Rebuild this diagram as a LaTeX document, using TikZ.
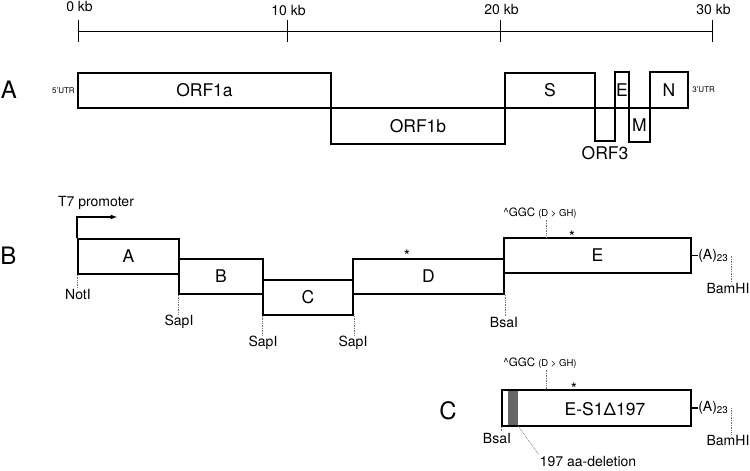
\documentclass[tikz,border=0pt]{standalone}
\usepackage{fontspec}
\setmainfont{TeX Gyre Heros}
\usepackage{tikz}
\usetikzlibrary{positioning}
\usetikzlibrary{arrows}
\newcommand{\boxfont}{\fontsize{17.5}{19}\selectfont}
\newcommand{\sitefont}{\fontsize{14}{16}\selectfont}
\newcommand{\panelfont}{\fontsize{24}{26}\selectfont}
\newcommand{\utrfont}{\fontsize{8}{9}\selectfont}
\newcommand{\ggcfont}{\fontsize{11.5}{13}\selectfont}
\newcommand{\ghfont}{\fontsize{9.5}{11}\selectfont}
\newcommand{\astfont}{\fontsize{16}{17}\selectfont}
\newcommand{\segment}[6]{ % Takes node name, left x, top y, right x, bottom y, label text as arguments
    \node [seg, minimum width={(#4-#2)*1pt}, minimum height={(#5-#3)*1pt}] (#1) at ({(#2+#4)/2}, {(#3+#5)/2}) {#6};
}

\begin{document}
\begin{tikzpicture}[x=1pt, y=-1pt,
    seg/.style={draw, line width=2.1pt, inner sep=0pt, font=\boxfont},
    site/.style={font=\sitefont, inner sep=1pt},
    utr/.style={font=\utrfont, inner sep=0pt},
    ggc/.style={font=\ggcfont, inner sep=1pt},
    astx/.style={font=\astfont, inner sep=0pt, anchor=base},
    cut/.style={densely dotted, line width=0.7pt, black!55},
    panel/.style={font=\panelfont, inner sep=0pt}]
                \useasboundingbox (0,0) rectangle (750,471);

                % Scale
                \foreach \k/\x/\ly in {0/78/7, 10/287/11, 20/500/10, 30/712/10} {
                    \coordinate (t\k) at (\x,31);
                    \draw[line width=1pt] (\x,20) -- (\x,42);
                    \node[site] (kb\k) at (\x+1.5,\ly) {\k\ kb};
                }
                \draw[line width=1pt] (t0) -- (t30);

                % A: genome
                \node[panel] (pa) at (9,90) {A};
                \segment{orf1a}{78}{73}{331}{108}{ORF1a}
                \segment{orf1b}{331}{108}{505}{144}{ORF1b}
                \segment{sbox}{505}{73}{595}{108}{S}
                \segment{orf3}{595}{108}{615}{141}{}
                \segment{ebox}{615}{72}{629}{108}{E}
                \segment{mbox}{629}{108}{650}{142}{M}
                \segment{nbox}{650}{72}{688}{108}{N}
                \node[utr, left=2pt of orf1a] (utr5) {5'UTR};
                \node[utr, right=3pt of nbox] (utr3) {3'UTR};
                \node[font=\boxfont, inner sep=1pt, below=3pt of orf3] (orf3lbl) {ORF3};

                % B: fragments
                \node[panel] (pb) at (8.5,256) {B};
                \segment{fa}{78}{239}{179}{274}{A}
                \segment{fb}{179}{259}{263}{294}{B}
                \segment{fc}{263}{280}{353}{315}{C}
                \segment{fd}{353}{259}{504}{294}{D}
                \segment{fe}{504}{238}{691}{273}{E}

                % T7 promoter
                \coordinate (t7tip) at (117,217);
                \draw[line width=1.2pt, -latex] (fa.north west) |- (t7tip);
                \node[site] (t7) at (96,203) {T7 promoter};

                % Restriction sites
                \node[site] (noti) at (78,294) {NotI};
                \draw[cut] (fa.south west) -- (fa.south west |- noti.north);
                \node[site] (sap1) at (179,322) {SapI};
                \draw[cut] (fb.south west) -- (fb.south west |- sap1.north);
                \node[site] (sap2) at (263,343) {SapI};
                \draw[cut] (fc.south west) -- (fc.south west |- sap2.north);
                \node[site] (sap3) at (353,343) {SapI};
                \draw[cut] (fc.south east) -- (fc.south east |- sap3.north);
                \node[site] (bsab) at (504,322) {BsaI};
                \draw[cut] (fd.south east) -- (fd.south east |- bsab.north);

                % Mutations
                \node[astx] (stard) at (407,261) {*};
                \node[astx] (stare) at (572,242) {*};
                \node[ggc] (ggcb) at (540,213) {\textasciicircum GGC {\ghfont (D > GH)}};
                \coordinate (mutb) at (546,0);
                \draw[cut] (ggcb.south -| mutb) -- (fe.north -| mutb);

                % Poly(A) tail
                \node[site, right=6pt of fe, inner sep=0pt] (polyb) {(A)\textsubscript{23}};
                \draw[line width=1.6pt] (fe.east) -- (polyb.west);
                \node[site] (bamhib) at (728,288) {BamHI};
                \coordinate (bamb) at (731,0);
                \draw[cut] (polyb.east -| bamb) -- (bamhib.north -| bamb);

                % C: deletion construct
                \node[panel] (pc) at (448,411) {C};
                \node[fill=black!60, inner sep=0pt, minimum width=10pt, minimum height=36pt] (delbar) at (513,408) {};
                \segment{es}{502}{390}{691}{426}{}
                \node[font=\boxfont, inner sep=1pt] (eslbl) at (605,409) {E-S1Δ197};
                \node[astx] (starc) at (574,394) {*};
                \node[ggc] (ggcc) at (540,363) {\textasciicircum GGC {\ghfont (D > GH)}};
                \coordinate (mutc) at (546,0);
                \draw[cut] (ggcc.south -| mutc) -- (es.north -| mutc);
                \node[site] (bsac) at (497,438) {BsaI};
                \draw[cut] (es.south west) -- (es.south west |- bsac.north);
                \node[site] (del) at (588,461) {197 aa-deletion};
                \draw[cut] (delbar.south east) -- (del.north west);
                \node[site, right=6pt of es, inner sep=0pt] (polyc) {(A)\textsubscript{23}};
                \draw[line width=1.6pt] (es.east) -- (polyc.west);
                \node[site] (bamhic) at (728,440) {BamHI};
                \draw[cut] (polyc.east -| bamb) -- (bamhic.north -| bamb);
            \end{tikzpicture}
\end{document}
